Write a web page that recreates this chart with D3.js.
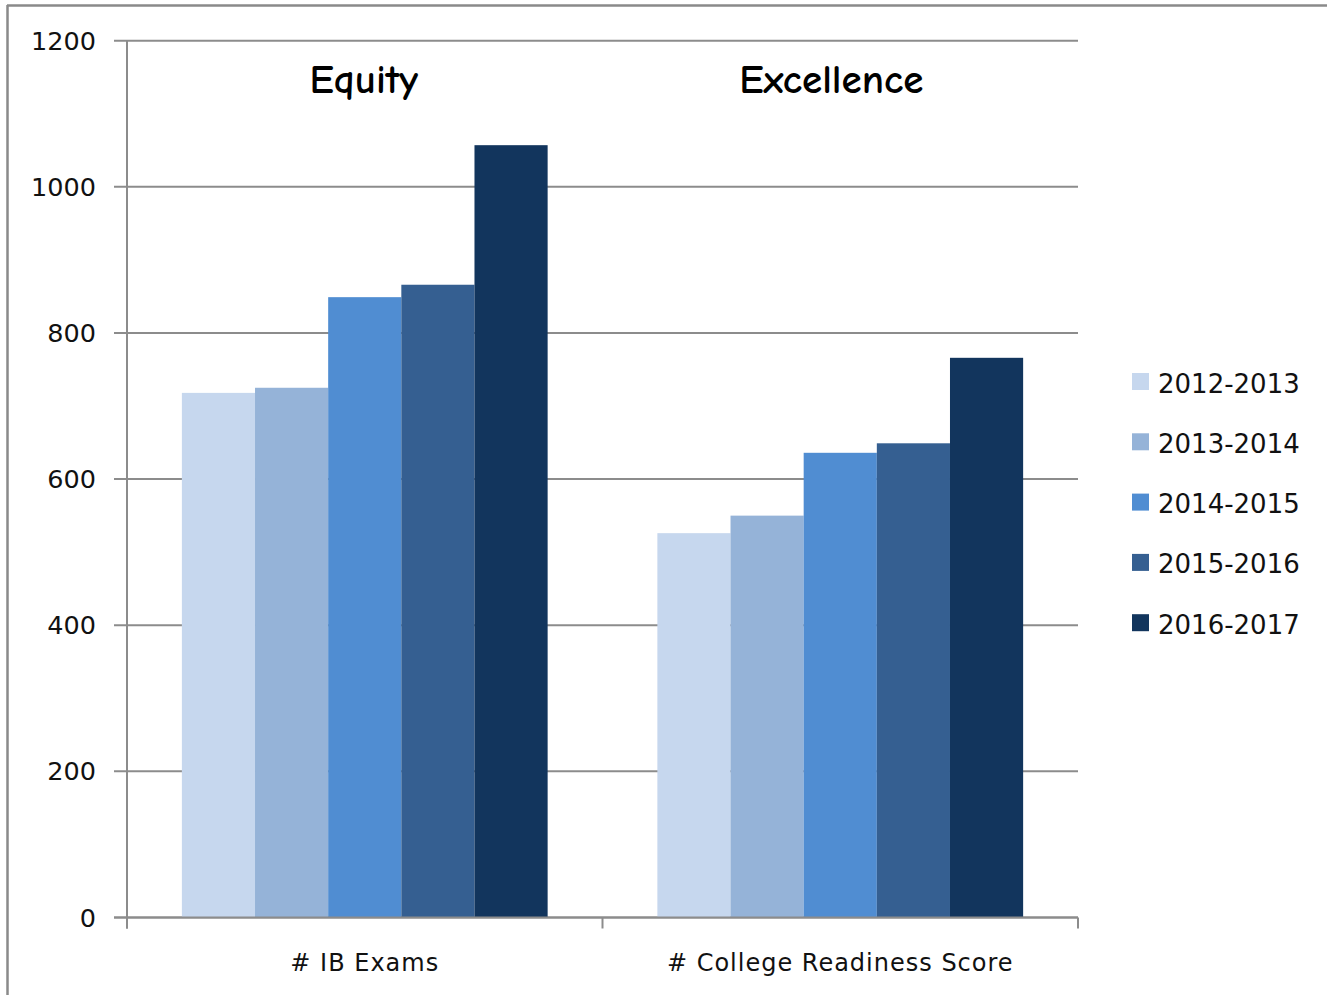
<!DOCTYPE html>
<html>
<head>
<meta charset="utf-8">
<script src="https://cdn.jsdelivr.net/npm/d3@7"></script>
<style>
  html, body { margin: 0; padding: 0; background: #fff; }
  svg { display: block; }
</style>
</head>
<body>
<svg id="chart" width="1327" height="995"></svg>
<script>
const categories = ["# IB Exams", "# College Readiness Score"];
const groupTitles = ["Equity", "Excellence"];
const seriesNames = ["2012-2013", "2013-2014", "2014-2015", "2015-2016", "2016-2017"];
const seriesColors = ["#C6D7EE", "#95B3D8", "#508DD2", "#355F91", "#12355D"];
const values2012 = [718, 526];
const values2013 = [725, 550];
const values2014 = [849, 636];
const values2015 = [866, 649];
const values2016 = [1057, 766];
const yTicks = [0, 200, 400, 600, 800, 1000, 1200];

const seriesValues = [values2012, values2013, values2014, values2015, values2016];

const svg = d3.select("#chart");
const W = 1327, H = 995;
const plot = { left: 127, right: 1078, top: 40.7, bottom: 917.5 };

// outer border (left and top only visible)
svg.append("line").attr("x1", 7.5).attr("x2", 7.5).attr("y1", 5).attr("y2", H)
  .attr("stroke", "#8a8a8a").attr("stroke-width", 2.5);
svg.append("line").attr("x1", 7).attr("x2", W).attr("y1", 5.5).attr("y2", 5.5)
  .attr("stroke", "#8a8a8a").attr("stroke-width", 2.5);

const y = d3.scaleLinear().domain([0, 1200]).range([plot.bottom, plot.top]);
const x0 = d3.scaleBand().domain(categories).range([plot.left, plot.right]).paddingInner(0).paddingOuter(0);
const x1 = d3.scaleBand().domain(seriesNames).range([0, x0.bandwidth()]).paddingOuter(0.75).paddingInner(0);

// gridlines
const grid = svg.append("g");
grid.selectAll("line").data(yTicks).join("line")
  .attr("x1", plot.left - 13).attr("x2", plot.right)
  .attr("y1", d => y(d)).attr("y2", d => y(d))
  .attr("stroke", "#8c8c8c").attr("stroke-width", 2);

// y tick labels
svg.append("g").selectAll("text").data(yTicks).join("text")
  .attr("x", 96).attr("y", d => y(d) + 9)
  .attr("text-anchor", "end")
  .attr("font-family", "'DejaVu Sans', Verdana, sans-serif")
  .attr("font-size", 25.5)
  .attr("fill", "#111")
  .text(d => d);

// bars
const groups = svg.append("g").selectAll("g").data(categories).join("g")
  .attr("transform", d => `translate(${x0(d)},0)`);
groups.selectAll("rect")
  .data((c, ci) => seriesNames.map((s, si) => ({ s, si, v: seriesValues[si][ci] })))
  .join("rect")
  .attr("x", d => x1(d.s))
  .attr("width", x1.bandwidth())
  .attr("y", d => y(d.v))
  .attr("height", d => y(0) - y(d.v))
  .attr("fill", d => seriesColors[d.si]);

// axes lines
svg.append("line").attr("x1", plot.left).attr("x2", plot.left)
  .attr("y1", plot.top).attr("y2", plot.bottom + 11)
  .attr("stroke", "#8c8c8c").attr("stroke-width", 2);
svg.append("line").attr("x1", plot.left - 13).attr("x2", plot.right)
  .attr("y1", plot.bottom).attr("y2", plot.bottom)
  .attr("stroke", "#8c8c8c").attr("stroke-width", 2);
const xTickPos = [plot.left, x0(categories[1]), plot.right];
svg.append("g").selectAll("line").data(xTickPos).join("line")
  .attr("x1", d => d).attr("x2", d => d)
  .attr("y1", plot.bottom).attr("y2", plot.bottom + 11)
  .attr("stroke", "#8c8c8c").attr("stroke-width", 2);

// category labels
svg.append("g").selectAll("text").data(categories).join("text")
  .attr("x", d => x0(d) + x0.bandwidth() / 2)
  .attr("y", 971)
  .attr("text-anchor", "middle")
  .attr("font-family", "'DejaVu Sans', Tahoma, sans-serif")
  .attr("font-size", 24)
  .attr("letter-spacing", 1)
  .attr("fill", "#111")
  .text(d => d);

// group titles
svg.append("g").selectAll("text").data(groupTitles).join("text")
  .attr("x", (d, i) => x0(categories[i]) + x0.bandwidth() / 2 + (i === 0 ? -1 : -9))
  .attr("y", 93)
  .attr("text-anchor", "middle")
  .attr("font-family", "'Comic Sans MS', 'Comic Neue', 'DejaVu Sans', sans-serif")
  .attr("font-weight", "bold")
  .attr("font-size", 41)
  .attr("fill", "#000")
  .text(d => d);

// legend
const legend = svg.append("g").attr("transform", "translate(1132,373)");
const li = legend.selectAll("g").data(seriesNames).join("g")
  .attr("transform", (d, i) => `translate(0,${i * 60.3})`);
li.append("rect").attr("width", 17).attr("height", 17)
  .attr("fill", (d, i) => seriesColors[i]);
li.append("text").attr("x", 26).attr("y", 19.5)
  .attr("font-family", "'DejaVu Sans', Tahoma, sans-serif")
  .attr("font-size", 26)
  .attr("fill", "#111")
  .text(d => d);
</script>
</body>
</html>
